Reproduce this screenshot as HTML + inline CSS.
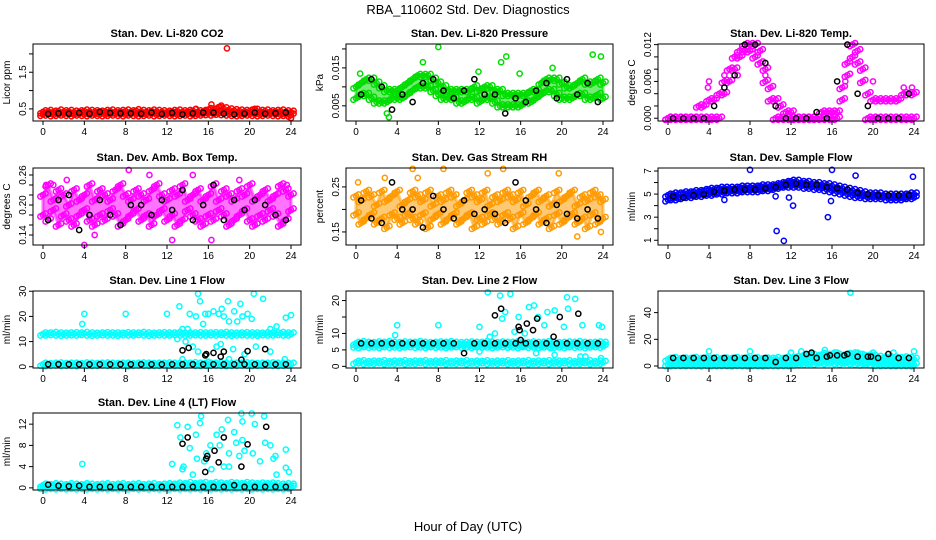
<!DOCTYPE html>
<html><head><meta charset="utf-8"><style>
html,body{margin:0;padding:0;background:#fff;}
svg{display:block;font-family:"Liberation Sans",sans-serif;}
</style></head><body>
<svg id="chart" width="936" height="540" viewBox="0 0 936 540" xmlns="http://www.w3.org/2000/svg">
<text x="468" y="14" text-anchor="middle" font-size="13">RBA_110602  Std. Dev. Diagnostics</text>
<text x="468" y="531" text-anchor="middle" font-size="13">Hour of Day (UTC)</text>
</svg>
<script>
const hoursHalf=[0,0.5,1,1.5,2,2.5,3,3.5,4,4.5,5,5.5,6,6.5,7,7.5,8,8.5,9,9.5,10,10.5,11,11.5,12,12.5,13,13.5,14,14.5,15,15.5,16,16.5,17,17.5,18,18.5,19,19.5,20,20.5,21,21.5,22,22.5,23,23.5,24];
const hoursOne=[0.5,1.5,2.5,3.5,4.5,5.5,6.5,7.5,8.5,9.5,10.5,11.5,12.5,13.5,14.5,15.5,16.5,17.5,18.5,19.5,20.5,21.5,22.5,23.5];
const xTicks=[0,4,8,12,16,20,24];

const co2A=[0.42,0.43,0.41,0.44,0.42,0.43,0.41,0.42,0.44,0.43,0.42,0.41,0.43,0.44,0.42,0.43,0.44,0.42,0.45,0.43,0.42,0.44,0.43,0.42,0.41,0.43,0.44,0.42,0.43,0.45,0.42,0.43,0.48,0.46,0.55,0.5,0.47,0.45,0.44,0.43,0.44,0.46,0.43,0.44,0.42,0.43,0.44,0.42,0.41];
const co2B=[0.35,0.36,0.34,0.35,0.36,0.35,0.34,0.36,0.35,0.34,0.36,0.35,0.34,0.35,0.36,0.35,0.34,0.36,0.35,0.34,0.35,0.36,0.34,0.35,0.36,0.35,0.34,0.35,0.36,0.34,0.35,0.36,0.37,0.36,0.38,0.37,0.36,0.35,0.34,0.35,0.36,0.35,0.34,0.35,0.36,0.35,0.34,0.35,0.33];
const co2Black=[0.36,0.38,0.37,0.39,0.37,0.42,0.39,0.38,0.38,0.37,0.40,0.36,0.39,0.35,0.38,0.40,0.40,0.37,0.35,0.37,0.40,0.37,0.38,0.40];
const co2OutX=[17.8,16.3,17.2,14.8,24,20.5];
const co2OutY=[2.15,0.62,0.55,0.5,0.25,0.5];

const presA=[0.010,0.011,0.012,0.012,0.011,0.010,0.009,0.009,0.009,0.010,0.011,0.012,0.013,0.013,0.013,0.012,0.011,0.010,0.009,0.009,0.009,0.009,0.009,0.010,0.009,0.010,0.010,0.009,0.009,0.008,0.008,0.008,0.008,0.008,0.009,0.009,0.011,0.012,0.012,0.012,0.011,0.010,0.010,0.011,0.012,0.011,0.011,0.012,0.011];
const presB=[0.007,0.008,0.008,0.007,0.006,0.006,0.006,0.007,0.007,0.007,0.008,0.009,0.010,0.010,0.010,0.009,0.008,0.007,0.007,0.007,0.006,0.006,0.007,0.007,0.006,0.007,0.007,0.006,0.005,0.005,0.005,0.005,0.005,0.006,0.006,0.007,0.008,0.009,0.009,0.008,0.007,0.007,0.007,0.008,0.008,0.007,0.007,0.008,0.007];
const presBlack=[0.008,0.012,0.010,0.004,0.008,0.006,0.011,0.012,0.009,0.007,0.009,0.012,0.008,0.008,0.003,0.007,0.006,0.009,0.011,0.007,0.012,0.008,0.011,0.006];
const presOutX=[8,6.5,14.1,14.6,23,23.8,3.2,3,0.4,11.9,15.9,19.1];
const presOutY=[0.0205,0.0165,0.0165,0.018,0.0185,0.018,0.002,0.003,0.0135,0.014,0.0135,0.015];

const tempA=[0,0,0,0,0,0,0.002,0.002,0.003,0.003,0.004,0.006,0.008,0.010,0.011,0.012,0.012,0.012,0.011,0.008,0.005,0.003,0.002,0.001,0.001,0,0,0,0,0,0.001,0.001,0.001,0.001,0.005,0.009,0.012,0.011,0.008,0.004,0.003,0.003,0.003,0.003,0.003,0.003,0.004,0.004,0.004];
const tempB=[0,0,0,0,0,0,0,0,0,0,0,0.004,0.006,0.008,0.010,0.011,0.011,0.010,0.009,0.006,0.003,0,0,0,0,0,0,0,0,0,0,0,0,0,0.003,0.007,0.010,0.009,0.006,0,0,0,0,0,0,0,0,0,0];
const tempBlack=[0,0,0,0,0.002,0.005,0.007,0.012,0.012,0.009,0.002,0,0,0,0.001,0,0.006,0.012,0.004,0.002,0,0,0,0.004];
const tempOutX=[4,3.9,5.5,6.8,9.5,17.3,20,23,23.8];
const tempOutY=[0.006,0.005,0.007,0.007,0.007,0.006,0.006,0.005,0.005];

const ambA=[0.22,0.24,0.21,0.23,0.22,0.20,0.23,0.21,0.22,0.24,0.21,0.23,0.22,0.21,0.23,0.24,0.22,0.21,0.23,0.22,0.21,0.23,0.24,0.22,0.21,0.23,0.22,0.24,0.21,0.22,0.23,0.21,0.22,0.24,0.21,0.23,0.22,0.21,0.23,0.22,0.24,0.21,0.22,0.23,0.21,0.22,0.24,0.23,0.22];
const ambB=[0.18,0.17,0.19,0.16,0.18,0.17,0.16,0.18,0.19,0.17,0.16,0.18,0.17,0.19,0.18,0.16,0.17,0.18,0.19,0.17,0.18,0.16,0.18,0.19,0.17,0.18,0.16,0.17,0.19,0.18,0.17,0.16,0.18,0.17,0.19,0.18,0.16,0.17,0.18,0.19,0.17,0.16,0.18,0.17,0.19,0.18,0.16,0.17,0.19];
const ambBlack=[0.17,0.21,0.22,0.15,0.18,0.21,0.18,0.16,0.20,0.20,0.18,0.21,0.19,0.23,0.17,0.20,0.24,0.17,0.21,0.19,0.21,0.20,0.18,0.17];
const ambOutX=[1,2.3,8.3,10.3,4,16.3,14.5,0.3,19,23.6,5,12.5];
const ambOutY=[0.24,0.25,0.27,0.26,0.12,0.13,0.26,0.24,0.25,0.24,0.14,0.13];

const rhA=[0.23,0.22,0.24,0.23,0.21,0.24,0.22,0.23,0.24,0.21,0.22,0.24,0.23,0.22,0.24,0.21,0.23,0.22,0.24,0.23,0.21,0.22,0.24,0.23,0.22,0.24,0.21,0.23,0.22,0.24,0.23,0.22,0.24,0.21,0.23,0.24,0.22,0.23,0.21,0.24,0.22,0.23,0.24,0.21,0.23,0.22,0.24,0.23,0.22];
const rhB=[0.19,0.17,0.18,0.19,0.17,0.18,0.16,0.19,0.18,0.17,0.19,0.18,0.17,0.19,0.16,0.18,0.19,0.17,0.18,0.19,0.17,0.18,0.19,0.16,0.18,0.17,0.19,0.18,0.17,0.19,0.18,0.16,0.19,0.17,0.18,0.19,0.17,0.18,0.16,0.19,0.17,0.18,0.19,0.17,0.18,0.16,0.19,0.17,0.18];
const rhBlack=[0.22,0.18,0.17,0.26,0.20,0.20,0.16,0.23,0.20,0.18,0.22,0.19,0.20,0.19,0.17,0.26,0.22,0.20,0.17,0.21,0.19,0.18,0.20,0.18];
const rhOutX=[8.5,6,14.3,5.5,19.7,2.8,0.2,21.5,12.8,23.8];
const rhOutY=[0.29,0.27,0.29,0.29,0.28,0.27,0.26,0.14,0.28,0.15];

const flowA=[4.9,5.0,5.0,5.1,5.1,5.2,5.2,5.3,5.4,5.4,5.5,5.5,5.5,5.5,5.6,5.6,5.6,5.6,5.7,5.7,5.7,5.8,5.9,6.0,6.1,6.1,6.0,6.0,5.9,5.9,5.8,5.8,5.7,5.6,5.5,5.4,5.3,5.2,5.1,5.0,5.0,5.0,4.9,4.9,4.9,4.9,4.9,5.0,5.0];
const flowB=[4.5,4.6,4.6,4.7,4.8,4.8,4.9,4.9,5.0,5.0,5.1,5.1,5.2,5.2,5.2,5.3,5.3,5.3,5.3,5.4,5.4,5.5,5.6,5.7,5.7,5.7,5.7,5.6,5.6,5.5,5.5,5.4,5.3,5.2,5.1,5.0,4.9,4.8,4.8,4.7,4.7,4.7,4.7,4.6,4.6,4.6,4.6,4.7,4.7];
const flowBlack=[4.8,4.7,4.9,5.0,5.2,5.3,5.4,5.4,5.4,5.5,5.6,5.8,5.9,5.8,5.8,5.6,5.5,5.4,5.1,5.0,4.9,4.9,4.9,4.9];
const flowOutX=[8,16,18.3,23.9,10.6,11.3,12.2,15.6,15.9,5.5,10.5,11.8];
const flowOutY=[7.1,7.1,6.6,6.5,1.8,0.95,4,3,4.4,4.5,4.8,4.7];

const l1A=[13,13,13.2,13,12.9,13,13.1,13,13.2,13,12.9,13,13.1,13,13,12.9,13.1,13,13,13.2,13,12.9,13,13.1,13,13,13.2,13,12.9,13,13.1,13,13,13.1,13,13.2,13,12.9,13,13.1,13,13,12.9,13.1,13,13,13.2,13,13];
const l1B=[1,0.8,1,1.1,0.9,1,1,0.8,1.1,1,0.9,1,1.1,1,0.9,1,1,0.8,1,1.1,1,0.9,1,1,1.1,1,0.9,1,1,1.2,1,0.9,1,1,1.1,1,0.8,1,1,1.1,1,0.9,1,1,1.1,1,0.9,1,1];
const l1Black=[1,1,1,1,1,1,1,1,1,1,1,1,1,1,1,1,1,1,1,1,1,1,1,1];
const l1OutX=[3.8,4,8,12,13.2,13.5,14,14.2,14.8,15,15.2,15.5,15.7,16,16.5,17,17.3,17.5,17.9,18,18.5,18.8,19.1,19.3,19.8,20.2,20.4,21.3,22,22.6,23.5,24,13,13.8,15,16.8,17.2,18.4,20.6,22,23.4,13.5,14.5,16,18,19.5];
const l1OutY=[17,21,21,21,24,15,15,21,20,29,26,17,21,21,22,21,23,20,26,18,22,18,25,20,21,19,29,27,15,16,19.5,20.5,11,10,6,8,9,7,8,6,3,3,8,2,3,5];
const l1BlkX=[13.5,14.1,15.7,15.8,16.5,17.2,17.5,19.8,21.5,19.2];
const l1BlkY=[6.5,7.5,4.5,5,5.5,4,6,6.2,7,2.8];

const l2A=[7,7.2,7,6.9,7.1,7,7.2,7,6.9,7.1,7,7,7.2,7,6.9,7,7.1,7,7.2,7,6.9,7,7.1,7,7,7.2,7,6.9,7.1,7,7,7.2,7,6.9,7.1,7,7,7.2,7,6.9,7,7.1,7,7.2,7,6.9,7,7.1,7];
const l2B=[6.2,6,6.3,6.1,6.2,6,6.3,6.1,6.2,6,6.2,6.3,6.1,6.2,6,6.3,6.1,6.2,6,6.2,6.3,6.1,6.2,6,6.3,6.1,6.2,6,6.2,6.3,6.1,6.2,6,6.3,6.1,6.2,6,6.2,6.3,6.1,6.2,6,6.3,6.1,6.2,6,6.2,6.3,6.1];
const l2C=[1.2,1.4,1.1,1.3,1.2,1.4,1.1,1.3,1.2,1.4,1.1,1.3,1.2,1.4,1.1,1.3,1.2,1.4,1.1,1.3,1.2,1.4,1.1,1.3,1.2,1.4,1.1,1.3,1.2,1.4,1.1,1.3,1.2,1.4,1.1,1.3,1.2,1.4,1.1,1.3,1.2,1.4,1.1,1.3,1.2,1.4,1.1,1.3,1.2];
const l2Black=[7,7,7,7,7,7,7,7,7,7,4,7,7,7,7,7,7,7,7,7,7,7,7,7];
const l2OutX=[4,3.8,8,12,12.8,14,15,14.5,14.2,15.8,16.8,17.3,17.7,18.3,18.6,19.3,20.5,21.3,20.6,22,23.6,23.9,21.8,22.3,12,13,13.5,15.4,16.2,16.4,18,18.9,19.3,20.2,23.8,17.5];
const l2OutY=[12.5,9.5,12.5,12,22.5,21.5,22,16.5,14.5,15,18,18.5,15,12.5,16.5,17,21,20.5,17.5,12.5,12.5,12,3,3,4.5,9,10,10.5,6,10,6,5.5,3.5,12,2.5,4];
const l2BlkX=[13.5,14.1,15.8,15.9,16,16.6,17.2,17.6,19.2,19.8,21.6];
const l2BlkY=[15.5,17.5,12,11,8,13,11,14.5,9,15,16];

const l3A=[5,5.5,4.8,5.2,5,5.6,4.9,5.3,5,5.4,4.8,5.2,5,5.5,4.9,5.3,5,5.4,4.8,5.2,5,5.5,4.9,6,5.5,6.5,7,7.5,8,7,8.5,8,9,8,7.5,8.5,9,8,7,7.5,7,6.5,6,6.5,6,5.5,6,5.5,5];
const l3B=[1,0.8,1.2,1,0.9,1.1,1,0.8,1.2,1,0.9,1.1,1,0.8,1.2,1,0.9,1.1,1,0.8,1.2,1,0.9,1.1,1,1.5,2,2,2.5,2,3,2.5,3,2.5,2,3,2.5,2,1.5,2,1.5,1.2,1,1.2,1,0.9,1.1,1,0.8];
const l3Black=[6,6,6,6,6,6,6,6,6,6,3,6,6,9,6,7,8,9,7,7,6,9,6,6];
const l3OutX=[17.8,4,8,12,13,15.3,14,16.5,18.5,20,24,22,19];
const l3OutY=[55,11,11,10,11,12,9,10,10,10,11,10,9];
const l3BlkX=[14,17.2,15.8,19.8];
const l3BlkY=[10,8,8,7];

const l4A=[0.5,0.4,0.6,0.5,0.4,0.6,0.5,0.4,0.6,0.5,0.4,0.5,0.6,0.4,0.5,0.6,0.4,0.5,0.6,0.4,0.5,0.6,0.4,0.5,0.6,0.5,0.7,0.6,0.8,0.6,0.7,0.8,0.6,0.8,0.7,0.6,0.8,0.7,0.6,0.8,0.7,0.6,0.7,0.6,0.7,0.6,0.5,0.6,0.5];
const l4B=[0.1,0,0.1,0,0.1,0,0.1,0,0.1,0,0.1,0,0.1,0,0.1,0,0.1,0,0.1,0,0.1,0,0.1,0,0.1,0,0.1,0,0.1,0,0.1,0,0.1,0,0.1,0,0.1,0,0.1,0,0.1,0,0.1,0,0.1,0,0.1,0,0.1];
const l4Black=[0.6,0.4,0.3,0.4,0.2,0.2,0.2,0.2,0.2,0.2,0.2,0.2,0.2,0.2,0.2,0.2,0.2,0.2,0.5,0.2,0.2,0.2,0.2,0.2];
const l4OutX=[3.8,12.5,13,13.3,13.5,13.6,14,14.2,14.8,14.5,14.9,15.2,15.3,15.6,15.8,16.2,16.3,16.8,17.1,17.3,17.5,18,17.9,18.5,18.7,19,19.2,19.3,19.5,19.3,20.2,20.3,20.5,21,21.5,21.4,22,22.3,22.5,22.6,23.5,23.5,23.8,18];
const l4OutY=[4.5,4.5,11.8,9.5,3.5,4,11.5,7.5,10,2.5,5.5,12.2,13.5,5,6.5,8,3.5,10,8,11,4,6.5,12.8,10.5,8.5,6,14,12.5,7,9,14,6.5,12,5,8.5,13.5,8,5.5,6,2.5,7.2,3.8,3,4];
const l4BlkX=[13.5,14,15.7,15.8,15.9,16.6,17,17.5,19.2,19.8,21.6];
const l4BlkY=[8.3,9.5,3,5.5,6,7,4.8,9.5,4,8.2,11.5];

const yTicks1=[0.5,1.0,1.5,2.0], yLab1=["0.5","","1.5",""];
const yTicks2=[0.005,0.010,0.015,0.020], yLab2=["0.005","","0.015",""];
const yTicks3=[0,0.002,0.004,0.006,0.008,0.010,0.012], yLab3=["0.000","","","0.006","","","0.012"];
const yTicks4=[0.14,0.16,0.18,0.20,0.22,0.24,0.26], yLab4=["0.14","","","0.20","","","0.26"];
const yTicks5=[0.15,0.20,0.25], yLab5=["0.15","","0.25"];
const yTicks6=[1,2,3,4,5,6,7], yLab6=["1","","3","","5","","7"];
const yTicks7=[0,10,20,30], yLab7=["0","10","20","30"];
const yTicks8=[0,5,10,15,20], yLab8=["0","5","10","","20"];
const yTicks9=[0,20,40], yLab9=["0","20","40"];
const yTicks10=[0,4,8,12], yLab10=["0","4","8","12"];

const panels=[
 {name:"co2",title:"Stan. Dev. Li-820 CO2",yl:"Licor ppm",col:0,row:0,ymin:0.17,ymax:2.27,color:"#ff0000",band:true,series:[co2A,co2B],black:co2Black,ox:co2OutX,oy:co2OutY,ticks:yTicks1,labs:yLab1},
 {name:"pressure",title:"Stan. Dev. Li-820 Pressure",yl:"kPa",col:1,row:0,ymin:0.001,ymax:0.0213,color:"#00dd00",band:true,series:[presA,presB],black:presBlack,ox:presOutX,oy:presOutY,ticks:yTicks2,labs:yLab2},
 {name:"li820-temp",title:"Stan. Dev. Li-820 Temp.",yl:"degrees C",col:2,row:0,ymin:-0.00045,ymax:0.0121,color:"#ff00ff",band:false,series:[tempA,tempB],black:tempBlack,ox:tempOutX,oy:tempOutY,ticks:yTicks3,labs:yLab3},
 {name:"amb-box-temp",title:"Stan. Dev. Amb. Box Temp.",yl:"degrees C",col:0,row:1,ymin:0.12,ymax:0.274,color:"#ff00ff",band:true,series:[ambA,ambB],black:ambBlack,ox:ambOutX,oy:ambOutY,ticks:yTicks4,labs:yLab4},
 {name:"gas-stream-rh",title:"Stan. Dev. Gas Stream RH",yl:"percent",col:1,row:1,ymin:0.121,ymax:0.292,color:"#ff9a00",band:true,series:[rhA,rhB],black:rhBlack,ox:rhOutX,oy:rhOutY,ticks:yTicks5,labs:yLab5},
 {name:"sample-flow",title:"Stan. Dev. Sample Flow",yl:"ml/min",col:2,row:1,ymin:0.59,ymax:7.26,color:"#0000ff",band:true,series:[flowA,flowB],black:flowBlack,ox:flowOutX,oy:flowOutY,ticks:yTicks6,labs:yLab6},
 {name:"line1-flow",title:"Stan. Dev. Line 1 Flow",yl:"ml/min",col:0,row:2,ymin:-0.5,ymax:30.1,color:"#00ffff",band:false,series:[l1A,l1B],black:l1Black,ox:l1OutX,oy:l1OutY,bx:l1BlkX,by:l1BlkY,ticks:yTicks7,labs:yLab7},
 {name:"line2-flow",title:"Stan. Dev. Line 2 Flow",yl:"ml/min",col:1,row:2,ymin:-0.5,ymax:22.9,color:"#00ffff",band:true,series:[l2A,l2B,l2C],black:l2Black,ox:l2OutX,oy:l2OutY,bx:l2BlkX,by:l2BlkY,ticks:yTicks8,labs:yLab8},
 {name:"line3-flow",title:"Stan. Dev. Line 3 Flow",yl:"ml/min",col:2,row:2,ymin:-1.5,ymax:56.2,color:"#00ffff",band:true,series:[l3A,l3B],black:l3Black,ox:l3OutX,oy:l3OutY,bx:l3BlkX,by:l3BlkY,ticks:yTicks9,labs:yLab9},
 {name:"line4-flow",title:"Stan. Dev. Line 4 (LT) Flow",yl:"ml/min",col:0,row:3,ymin:-0.4,ymax:14.1,color:"#00ffff",band:true,series:[l4A,l4B],black:l4Black,ox:l4OutX,oy:l4OutY,bx:l4BlkX,by:l4BlkY,ticks:yTicks10,labs:yLab10}
];

const NS="http://www.w3.org/2000/svg";
const svg=document.getElementById('chart');
const colLeft=[33,346,658], colW=[268,267,266], rowTop=[44,168,291,413], H=77;
const cluster=[[0,0],[-2.6,1.5],[2.6,-1.5]];
function mk(tag,attrs,parent){const e=document.createElementNS(NS,tag);for(const k in attrs)e.setAttribute(k,attrs[k]);parent.appendChild(e);return e;}

panels.forEach(p=>{
  const L=colLeft[p.col], W=colW[p.col], T=rowTop[p.row], B=T+H;
  const g=mk('g',{},svg);
  
  
  const xs=h=>L+10+h/24*(W-20);
  const ys=v=>B-(v-p.ymin)/(p.ymax-p.ymin)*H;
  const t=mk('text',{x:L+W/2,y:T-7,'text-anchor':'middle','font-size':11,'font-weight':'bold'},g);
  t.textContent=p.title;
  
  
  const marks=mk('g',{fill:'none','stroke-width':1.5},g);
  
  
  if(p.band){
    const a=p.series[0], b=p.series[1];
    let d=a.map((v,i)=>(i?'L':'M')+xs(hoursHalf[i])+','+ys(v)).join('');
    for(let i=b.length-1;i>=0;i--)d+='L'+xs(hoursHalf[i])+','+ys(b[i]);
    const band=mk('path',{d:d+'Z',fill:p.color,'fill-opacity':0.55,stroke:p.color,'stroke-width':3,'stroke-opacity':0.55},marks);
    
    
  }
  p.series.forEach(arr=>{arr.forEach((v,i)=>{
    cluster.forEach(o=>{
      const c=mk('circle',{cx:xs(hoursHalf[i])+o[0],cy:ys(v)+o[1],r:2.6,stroke:p.color},marks);
      
      
    });
  });});
  p.ox.forEach((h,i)=>{
    const c=mk('circle',{cx:xs(h),cy:ys(p.oy[i]),r:2.6,stroke:p.color},marks);
    
    
  });
  p.black.forEach((v,i)=>{
    const c=mk('circle',{cx:xs(hoursOne[i]),cy:ys(v),r:2.6,stroke:'#000'},marks);
    
    
  });
  if(p.bx){p.bx.forEach((h,i)=>{
    const c=mk('circle',{cx:xs(h),cy:ys(p.by[i]),r:2.6,stroke:'#000'},marks);
    
    
  });}
  const box=mk('rect',{x:L,y:T,width:W,height:H,fill:'none',stroke:'#000','stroke-width':1},g);
  
  
  xTicks.forEach(h=>{
    mk('line',{x1:xs(h),x2:xs(h),y1:B,y2:B+4,stroke:'#000'},g);
    const tx=mk('text',{x:xs(h),y:B+14,'text-anchor':'middle','font-size':10},g);
    tx.textContent=h;
    
    
  });
  mk('line',{x1:xs(0),x2:xs(24),y1:B,y2:B,stroke:'#000'},g);
  p.ticks.forEach((v,i)=>{
    const y=ys(v);
    mk('line',{x1:L-4,x2:L,y1:y,y2:y,stroke:'#000'},g);
    if(p.labs[i]){
      const ty=mk('text',{x:L-7,y:y,'text-anchor':'middle','font-size':10,transform:`rotate(-90 ${L-7} ${y})`},g);
      ty.textContent=p.labs[i];
      
      
    }
  });
  const yt=mk('text',{x:L-23,y:T+H/2,'text-anchor':'middle','font-size':10,transform:`rotate(-90 ${L-23} ${T+H/2})`},g);
  yt.textContent=p.yl;
  
  
});
</script>
</body></html>
